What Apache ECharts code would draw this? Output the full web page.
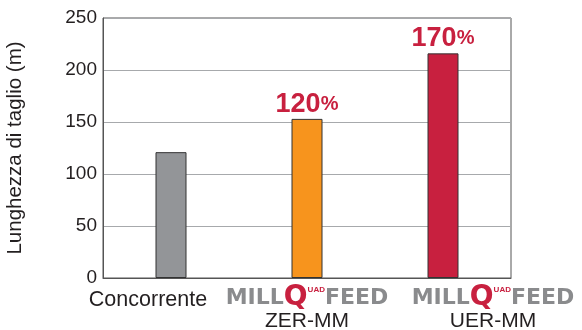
<!DOCTYPE html>
<html>
<head>
<meta charset="utf-8">
<script src="https://cdn.jsdelivr.net/npm/echarts@6/dist/echarts.min.js"></script>
<style>
  html, body { margin: 0; padding: 0; background: #fff; }
  #main { width: 582px; height: 330px; }
</style>
</head>
<body>
<div id="main"></div>
<script>
// dati del grafico
var categories = ['Concorrente', 'ZER-MM', 'UER-MM'];
var values = [121, 153, 216];
var percentLabels = ['', '120', '170'];
var barColors = ['#939598', '#f7941d', '#c8203f'];
var yTicks = [0, 50, 100, 150, 200, 250];

var myChart = echarts.init(document.getElementById('main'));

var logo = '{m|MILL}{q|Q}{u|UAD}{m|FEED}';

myChart.setOption({
  animation: false,
  textStyle: { fontFamily: 'Liberation Sans, Arial, sans-serif' },
  grid: {
    left: 103, right: 71, top: 18, bottom: 52,
    outerBoundsMode: 'none',
    containLabel: false,
    show: true, borderColor: '#555', borderWidth: 1
  },
  xAxis: {
    type: 'category',
    data: categories.map(function (c, i) {
      if (i === 0) {
        return { value: c, textStyle: { padding: [0, 46, 0, 0] } };
      }
      return { value: c, textStyle: { padding: i === 2 ? [0, 0, 0, 100] : [0, 0, 0, 0] } };
    }),
    axisLine: { lineStyle: { color: '#555' } },
    axisTick: { show: false },
    axisLabel: {
      interval: 0,
      margin: 8,
      color: '#231f20',
      fontSize: 18,
      formatter: function (v, i) {
        if (i === 0) return '{c|' + v + '}';
        return logo + '\n{s|' + v + '}';
      },
      rich: {
        c: { fontSize: 21.5, color: '#231f20', lineHeight: 28 },
        m: { fontSize: 22, fontWeight: 'bold', color: '#8a8b8d', fontFamily: 'DejaVu Sans', lineHeight: 24 },
        q: { fontSize: 28, fontWeight: 'bold', color: '#c8203f', fontFamily: 'DejaVu Sans', lineHeight: 24 },
        u: { fontSize: 8, fontWeight: 'bold', color: '#c8203f', verticalAlign: 'top', lineHeight: 24 },
        s: { fontSize: 21, color: '#231f20', lineHeight: 22 }
      }
    }
  },
  yAxis: {
    type: 'value',
    min: yTicks[0],
    max: yTicks[yTicks.length - 1],
    interval: 50,
    name: 'Lunghezza di taglio (m)',
    nameLocation: 'middle',
    nameGap: 77,
    nameTextStyle: { fontSize: 20.5, color: '#231f20' },
    axisLine: { show: true, lineStyle: { color: '#555' } },
    axisTick: { show: false },
    axisLabel: { fontSize: 19, color: '#231f20', margin: 6 },
    splitLine: { lineStyle: { color: '#a7a9ac', width: 1 } }
  },
  series: [{
    type: 'bar',
    barWidth: 31,
    data: values.map(function (v, i) {
      return {
        value: v,
        itemStyle: { color: barColors[i] },
        label: {
          show: percentLabels[i] !== '',
          formatter: '{n|' + percentLabels[i] + '}{p|%}'
        }
      };
    }),
    itemStyle: { borderColor: '#333', borderWidth: 1 },
    label: {
      position: 'top',
      distance: 1,
      rich: {
        n: { fontSize: 27, fontWeight: 'bold', color: '#c8203f' },
        p: { fontSize: 20, fontWeight: 'bold', color: '#c8203f' }
      }
    }
  }]
});
</script>
</body>
</html>
